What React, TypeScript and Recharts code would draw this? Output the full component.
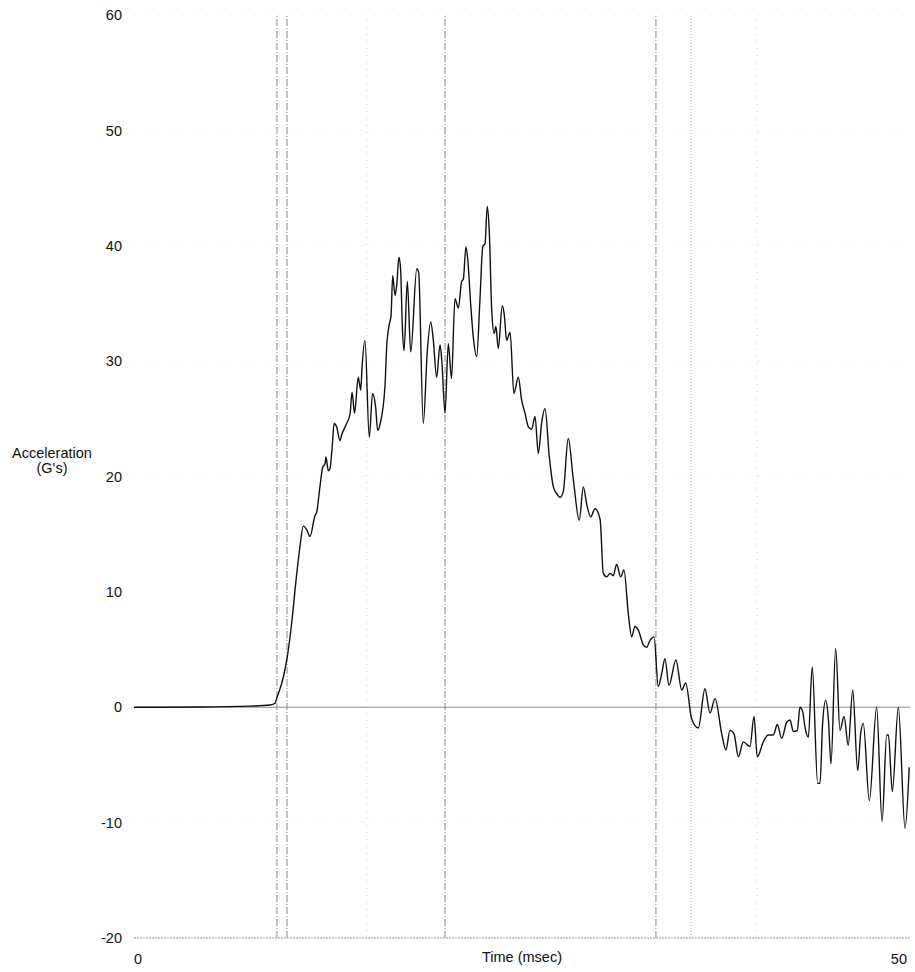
import { CartesianGrid, Label, Line, LineChart, ReferenceLine, XAxis, YAxis } from "recharts";

// sled pulse (time in msec, acceleration in G's)
const timeMs = [
  0, 4.25, 7.47, 8.76, 9.09, 9.19, 9.62, 9.88, 10.16, 10.44, 10.7, 10.91, 11.13, 11.34, 11.66, 11.77,
  11.98, 12.16, 12.31, 12.37, 12.52, 12.63, 12.8, 12.89, 13.06, 13.27, 13.38, 13.7, 13.92, 14.05, 14.21,
  14.45, 14.61, 14.69, 14.88, 15.16, 15.37, 15.57, 15.7, 15.85, 16.17, 16.28, 16.45, 16.56, 16.67, 16.82,
  16.93, 17.07, 17.18, 17.29, 17.4, 17.61, 17.83, 18.22, 18.34, 18.64, 18.9, 19.12, 19.28, 19.5, 19.72,
  19.83, 20.04, 20.25, 20.46, 20.68, 20.9, 21.11, 21.22, 21.39, 21.5, 21.69, 21.86, 22.08, 22.29, 22.47,
  22.62, 22.76, 22.89, 23.05, 23.21, 23.32, 23.47, 23.73, 23.86, 24.01, 24.23, 24.48, 24.76, 24.98, 25.19,
  25.41, 25.62, 25.84, 26.05, 26.27, 26.48, 26.76, 27.02, 27.24, 27.45, 27.66, 27.98, 28.31, 28.69, 28.95,
  29.17, 29.43, 29.7, 30.03, 30.24, 30.46, 30.67, 30.88, 31.1, 31.36, 31.57, 31.85, 32.07, 32.28, 32.49,
  32.82, 33.03, 33.25, 33.51, 33.78, 34.0, 34.21, 34.47, 34.92, 35.29, 35.55, 35.93, 36.36, 36.79, 37.11,
  37.44, 37.87, 38.14, 38.4, 38.66, 38.94, 39.26, 39.69, 39.95, 40.16, 40.55, 40.87, 41.19, 41.45, 41.73,
  42.06, 42.27, 42.48, 42.74, 42.91, 43.09, 43.23, 43.45, 43.7, 44.05, 44.2, 44.37, 44.57, 44.74, 44.91,
  45.21, 45.49, 45.75, 46.02, 46.31, 46.63, 46.82, 46.99, 47.38, 47.85, 48.2, 48.5, 48.61, 48.86, 49.25,
  49.68, 49.95,
];

const accelG = [
  0, 0.02, 0.1, 0.2, 0.35, 0.75, 2.6, 4.4, 7.3, 11.0, 14.0, 15.7, 15.4, 14.8, 16.6, 16.9,
  19.1, 20.8, 21.1, 21.7, 20.5, 20.7, 23.1, 24.6, 24.3, 23.1, 23.6, 24.6, 25.4, 27.3, 25.5,
  28.6, 27.5, 29.4, 31.8, 23.4, 27.2, 26.0, 24.0, 24.5, 27.8, 31.2, 33.2, 33.9, 37.4, 35.7,
  36.6, 39.0, 37.9, 33.0, 30.9, 36.9, 30.8, 38.0, 37.7, 24.6, 30.9, 33.4, 31.9, 28.6, 31.4,
  30.1, 25.5, 31.5, 28.5, 35.4, 34.6, 36.9, 37.1, 39.9, 38.9, 35.0, 32.1, 30.4, 35.3, 39.9,
  40.2, 43.4, 41.3, 34.4, 32.4, 33.0, 31.1, 34.8, 34.0, 31.8, 32.5, 27.2, 28.6, 26.6, 25.5,
  24.3, 24.1, 25.2, 22.0, 24.7, 25.9, 21.7, 19.1, 18.5, 18.2, 18.7, 23.3, 19.7, 16.2, 19.1,
  17.6, 16.5, 17.2, 16.3, 11.6, 11.3, 11.6, 11.4, 12.4, 11.3, 11.9, 8.1, 6.1, 7.0, 6.7,
  5.4, 5.2, 5.8, 6.1, 1.8, 2.9, 4.2, 1.9, 4.1, 1.5, 2.1, -1.0, -1.8, 1.6, -0.5,
  0.75, -2.3, -3.7, -2.0, -2.3, -4.3, -3.0, -3.4, -0.8, -4.3, -3.0, -2.4, -2.4, -1.5, -2.7,
  -1.3, -1.1, -2.1, -2.0, 0.0, -0.4, -1.7, -2.6, 3.5, -6.6, -6.6, -1.4, 0.6, -1.0, -4.9,
  5.1, -2.0, -0.8, -3.3, 1.5, -5.5, -2.3, -1.4, -8.1, 0.0, -9.9, -2.4, -2.4, -7.3, 0.0,
  -10.5, -5.2,
];

const yTicks = [-20, -10, 0, 10, 20, 30, 40, 50, 60];
const xTicks = [0, 50];
// event markers (dash-dot) and the dotted one after them
const markerTimes = [9.21, 9.86, 20.04, 33.63];
const dottedTimes = [35.89];
const faintTimes = [15.01, 40.14];

const data = timeMs.map((t, i) => ({ t, g: accelG[i] }));

const font = "Arial, 'Liberation Sans', sans-serif";

function TimeTick(props: any) {
  const { x, y, payload } = props;
  const first = payload.value === 0;
  return (
    <text x={x} y={y + 24} textAnchor={first ? "start" : "end"} fontSize={14.5} fontFamily={font} fill="#111">
      {payload.value}
    </text>
  );
}

export default function App() {
  return (
    <div style={{ position: "absolute", left: 0, top: 0, background: "#fff" }}>
      <LineChart width={915} height={972} data={data} margin={{ top: 15, right: 5, bottom: 0, left: 0 }}>
        <CartesianGrid horizontal vertical={false} stroke="#e2e2e2" strokeDasharray="1 11" />
        <XAxis
          dataKey="t"
          type="number"
          domain={[0, 50]}
          ticks={xTicks}
          height={34}
          tickSize={0}
          tickLine={false}
          axisLine={{ stroke: "#999", strokeDasharray: "2 1" }}
          tick={<TimeTick />}
        >
          <Label
            content={({ viewBox }: any) => (
              <text x={viewBox.x + viewBox.width / 2} y={viewBox.y + 24} textAnchor="middle" fontSize={14.5} fontFamily={font} fill="#111">
                Time (msec)
              </text>
            )}
          />
        </XAxis>
        <YAxis
          type="number"
          domain={[-20, 60]}
          ticks={yTicks}
          width={134}
          tickSize={0}
          tickMargin={12}
          tickLine={false}
          axisLine={false}
          tick={{ fontSize: 14.5, fontFamily: font, fill: "#111" }}
        >
          <Label
            content={() => (
              <text textAnchor="middle" fontSize={14.5} fontFamily={font} fill="#111">
                <tspan x={52} y={458}>Acceleration</tspan>
                <tspan x={52} y={473}>(G's)</tspan>
              </text>
            )}
          />
        </YAxis>
        {faintTimes.map((t) => (
          <ReferenceLine key={"f" + t} x={t} stroke="#cfcfcf" strokeDasharray="1 6" />
        ))}
        {markerTimes.map((t) => (
          <ReferenceLine key={"m" + t} x={t} stroke="#888" strokeDasharray="7 2 1 2" />
        ))}
        {dottedTimes.map((t) => (
          <ReferenceLine key={"d" + t} x={t} stroke="#aaa" strokeDasharray="1 2" />
        ))}
        <ReferenceLine y={0} stroke="#8c8c8c" />
        <Line
          type="monotone"
          dataKey="g"
          stroke="#111"
          strokeWidth={1.4}
          dot={false}
          activeDot={false}
          isAnimationActive={false}
        />
      </LineChart>
    </div>
  );
}
